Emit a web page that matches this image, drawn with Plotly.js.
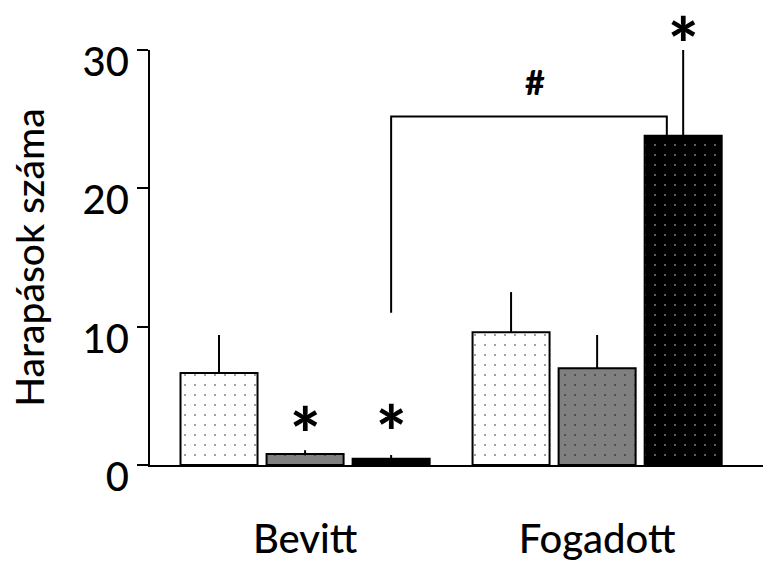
<!DOCTYPE html>
<html>
<head>
<meta charset="utf-8">
<script src="https://cdn.plot.ly/plotly-3.0.1.min.js"></script>
<style>html,body{margin:0;padding:0;background:#fff;}#chart{width:763px;height:562px;}</style>
</head>
<body>
<div id="chart"></div>
<script>
// ---- data ----
var categories = ["Bevitt", "Fogadott"];
var seriesNames = ["A", "B", "C"];
var series1 = [6.65, 9.6];
var series2 = [0.8, 7.0];
var series3 = [0.45, 23.8];
var err1 = [2.75, 2.9];
var err2 = [0.27, 2.4];
var err3 = [0.27, 6.5];
var yTicks = [0, 10, 20, 30];
var yTitle = "Harapások száma";
// significance marks: category index, series index, label height
var starCats = [0, 0, 1];
var starSeries = [1, 2, 2];
var starY = [3.25, 3.4, 31.45];
var bracketFrom = [0, 2];   // category, series
var bracketTo = [1, 2];
var bracketLeftBottom = 11.0;
var bracketTop = 25.2;
var bracketLabel = "#";

// ---- styles ----
var bgColors = ["#ffffff", "#808080", "#000000"];
var dotColors = ["#000000", "#000000", "#ffffff"];
var values = [series1, series2, series3];
var errs = [err1, err2, err3];
var FONT = "Lato, sans-serif";
var yMax = 30;

var bargap = 0.116;
var slot = (1 - bargap) / 3;

var traces = values.map(function (v, i) {
  return {
    type: "bar",
    name: seriesNames[i],
    x: categories,
    y: v,
    cliponaxis: false,
    marker: {
      color: bgColors[i],
      line: { color: "#000", width: 2 },
      pattern: { shape: ".", bgcolor: bgColors[i], fgcolor: dotColors[i], size: 10, solidity: 0.03, fillmode: "overlay" }
    },
    error_y: { type: "data", symmetric: false, array: errs[i], arrayminus: errs[i].map(function(){return 0;}), color: "#000", thickness: 2, width: 0 },
    showlegend: false,
    hoverinfo: "skip"
  };
});

function xpos(cat, s) { return cat + (s - 1) * slot; }

var annotations = starCats.map(function (c, k) {
  return {
    x: xpos(c, starSeries[k]), y: starY[k] / yMax, xref: "x", yref: "paper",
    text: "*", showarrow: false, yanchor: "middle", yshift: -13,
    font: { family: FONT, size: 72, color: "#000", weight: 900 }
  };
});

var bx0 = xpos(bracketFrom[0], bracketFrom[1]);
var bx1 = xpos(bracketTo[0], bracketTo[1]) - 0.056;
var by1 = values[bracketTo[1]][bracketTo[0]];

annotations.push({
  x: (bx0 + bx1) / 2 + 0.02, y: bracketTop, xref: "x", yref: "y",
  text: bracketLabel, showarrow: false, yanchor: "bottom", yshift: 12,
  font: { family: FONT, size: 34, color: "#000", weight: 900 }
});

var shapes = [{
  type: "path", xref: "x", yref: "y",
  path: "M " + bx0 + " " + bracketLeftBottom + " L " + bx0 + " " + bracketTop +
        " L " + bx1 + " " + bracketTop + " L " + bx1 + " " + by1,
  line: { color: "#000", width: 2 }
}];

var layout = {
  width: 763, height: 562,
  margin: { l: 150, r: 0, t: 50, b: 97 },
  paper_bgcolor: "#fff", plot_bgcolor: "#fff",
  barmode: "group", bargap: bargap, bargroupgap: 0.105,
  font: { family: FONT, color: "#000" },
  xaxis: {
    type: "category", range: [-0.531, 1.568],
    showline: true, linecolor: "#000", linewidth: 2,
    ticks: "", showgrid: false, zeroline: false,
    tickfont: { family: FONT, size: 40, color: "#000", weight: 500 },
    ticklabelstandoff: 38
  },
  yaxis: {
    range: [0, yMax], tickvals: yTicks, ticktext: yTicks.map(String),
    showline: true, linecolor: "#000", linewidth: 2,
    ticks: "outside", ticklen: 11, tickwidth: 2, tickcolor: "#000",
    showgrid: false, zeroline: false,
    tickfont: { family: FONT, size: 40, color: "#000", weight: 500 },
    ticklabelstandoff: 0, ticklabelshift: 12,
    title: { text: yTitle, font: { family: FONT, size: 39, color: "#000", weight: 500 }, standoff: 26 }
  },
  shapes: shapes,
  annotations: annotations
};

Plotly.newPlot("chart", traces, layout, { staticPlot: true, displayModeBar: false });
</script>
</body>
</html>
